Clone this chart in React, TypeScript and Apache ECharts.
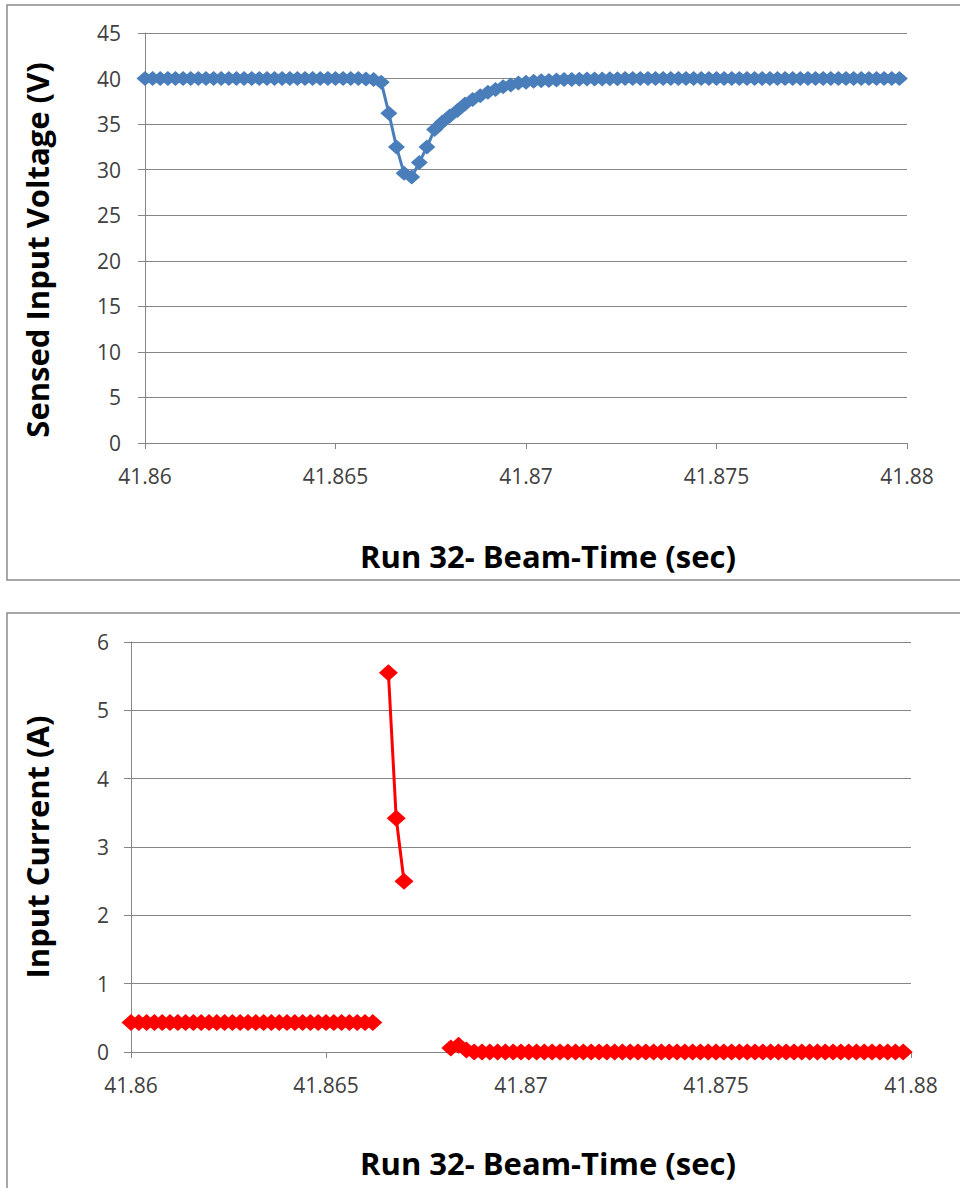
import React, { useEffect, useRef } from "react";
import * as echarts from "echarts";

// Sample times: 41.8600 s to 41.8798 s, one sample every 0.0002 s
const timeStart = 41.86;
const timeStep = 0.0002;

// Sensed input voltage (V), one value per sample
const voltage: number[] = [
  40, 40, 40, 40, 40, 40, 40, 40, 40, 40,
  40, 40, 40, 40, 40, 40, 40, 40, 40, 40,
  40, 40, 40, 40, 40, 40, 40, 40, 40, 39.95,
  39.9, 39.6, 36.2, 32.5, 29.6, 29.2, 30.8, 32.5, 34.4, 35.2,
  35.9, 36.5, 37.2, 37.7, 38.1, 38.5, 38.8, 39.1, 39.3, 39.5,
  39.6, 39.7, 39.75, 39.8, 39.85, 39.9, 39.9, 39.92, 39.94, 39.95,
  39.96, 39.97, 39.98, 40, 40, 40, 40, 40, 40, 40,
  40, 40, 40, 40, 40, 40, 40, 40, 40, 40,
  40, 40, 40, 40, 40, 40, 40, 40, 40, 40,
  40, 40, 40, 40, 40, 40, 40, 40, 40, 40,
];

// Input current (A), one value per sample (null = no sample drawn)
const current: (number | null)[] = [
  0.43, 0.43, 0.43, 0.43, 0.43, 0.43, 0.43, 0.43, 0.43, 0.43,
  0.43, 0.43, 0.43, 0.43, 0.43, 0.43, 0.43, 0.43, 0.43, 0.43,
  0.43, 0.43, 0.43, 0.43, 0.43, 0.43, 0.43, 0.43, 0.43, 0.43,
  0.43, 0.43, null, 5.55, 3.42, 2.5, null, null, null, null,
  null, 0.06, 0.1, 0.03, 0, 0, 0, 0, 0, 0,
  0, 0, 0, 0, 0, 0, 0, 0, 0, 0,
  0, 0, 0, 0, 0, 0, 0, 0, 0, 0,
  0, 0, 0, 0, 0, 0, 0, 0, 0, 0,
  0, 0, 0, 0, 0, 0, 0, 0, 0, 0,
  0, 0, 0, 0, 0, 0, 0, 0, 0, 0,
];

const xTitle = "Run 32- Beam-Time (sec)";
const yTitleTop = "Sensed Input Voltage (V)";
const yTitleBottom = "Input Current (A)";

const FONT = "'Open Sans', 'Noto Sans', sans-serif";
const GRID_COLOR = "#868686";
const LABEL_COLOR = "#404040";

export default function App() {
  const ref = useRef<HTMLDivElement>(null);

  useEffect(() => {
    if (!ref.current) return;
    const chart = echarts.init(ref.current, null, { renderer: "svg" });

    const t = (i: number) => Math.round((timeStart + i * timeStep) * 10000) / 10000;
    const vData = voltage.map((v, i) => [t(i), v]);
    const cData = current.map((v, i) => [t(i), v]);

    const xAxisBase = (gridIndex: number) => ({
      type: "value" as const,
      gridIndex,
      min: 41.86,
      max: 41.88,
      interval: 0.005,
      axisLine: { show: true, onZero: false, lineStyle: { color: GRID_COLOR, width: 1 } },
      axisTick: { show: true, length: 6, lineStyle: { color: GRID_COLOR } },
      splitLine: { show: false },
      axisLabel: {
        margin: 22,
        color: LABEL_COLOR,
        fontSize: 21,
        fontFamily: FONT,
        formatter: (v: number) => String(Math.round(v * 1000) / 1000),
      },
    });

    const yAxisBase = (gridIndex: number, max: number, interval: number, margin: number) => ({
      type: "value" as const,
      gridIndex,
      min: 0,
      max,
      interval,
      axisLine: { show: true, lineStyle: { color: GRID_COLOR, width: 1 } },
      axisTick: { show: true, length: 7, lineStyle: { color: GRID_COLOR } },
      splitLine: { show: true, lineStyle: { color: GRID_COLOR, width: 1 } },
      axisLabel: { margin, color: LABEL_COLOR, fontSize: 21, fontFamily: FONT },
    });

    const titleStyle = {
      fill: "#000",
      font: `bold 31px ${FONT}`,
      textAlign: "center",
      textVerticalAlign: "middle",
    };

    chart.setOption({
      animation: false,
      backgroundColor: "#fff",
      grid: [
        { left: 145, right: 53, top: 33, height: 410 },
        { left: 131, right: 49, top: 642, height: 410 },
      ],
      xAxis: [xAxisBase(0), xAxisBase(1)],
      yAxis: [yAxisBase(0, 45, 5, 24), yAxisBase(1, 6, 1, 22)],
      series: [
        {
          type: "line",
          xAxisIndex: 0,
          yAxisIndex: 0,
          data: vData,
          symbol: "diamond",
          symbolSize: [17, 15],
          lineStyle: { color: "#4A7EBB", width: 3 },
          itemStyle: { color: "#4A7EBB" },
          z: 3,
        },
        {
          type: "line",
          xAxisIndex: 1,
          yAxisIndex: 1,
          data: cData,
          symbol: "diamond",
          symbolSize: [19, 17],
          connectNulls: false,
          lineStyle: { color: "#FF0000", width: 3 },
          itemStyle: { color: "#FF0000" },
          z: 3,
        },
      ],
      graphic: [
        {
          type: "rect",
          shape: { x: 7, y: 5, width: 960, height: 575 },
          style: { fill: "none", stroke: "#8a8a8a", lineWidth: 1.5 },
          silent: true,
        },
        {
          type: "rect",
          shape: { x: 7, y: 613, width: 960, height: 600 },
          style: { fill: "none", stroke: "#8a8a8a", lineWidth: 1.5 },
          silent: true,
        },
        {
          type: "text",
          x: 548,
          y: 556,
          style: { ...titleStyle, text: xTitle },
        },
        {
          type: "text",
          x: 548,
          y: 1163,
          style: { ...titleStyle, text: xTitle },
        },
        {
          type: "text",
          x: 37,
          y: 250,
          rotation: Math.PI / 2,
          style: { ...titleStyle, text: yTitleTop },
        },
        {
          type: "text",
          x: 37,
          y: 847,
          rotation: Math.PI / 2,
          style: { ...titleStyle, text: yTitleBottom },
        },
      ],
    });

    return () => chart.dispose();
  }, []);

  return (
    <div
      ref={ref}
      style={{ position: "absolute", left: 0, top: 0, width: 960, height: 1188 }}
    />
  );
}
